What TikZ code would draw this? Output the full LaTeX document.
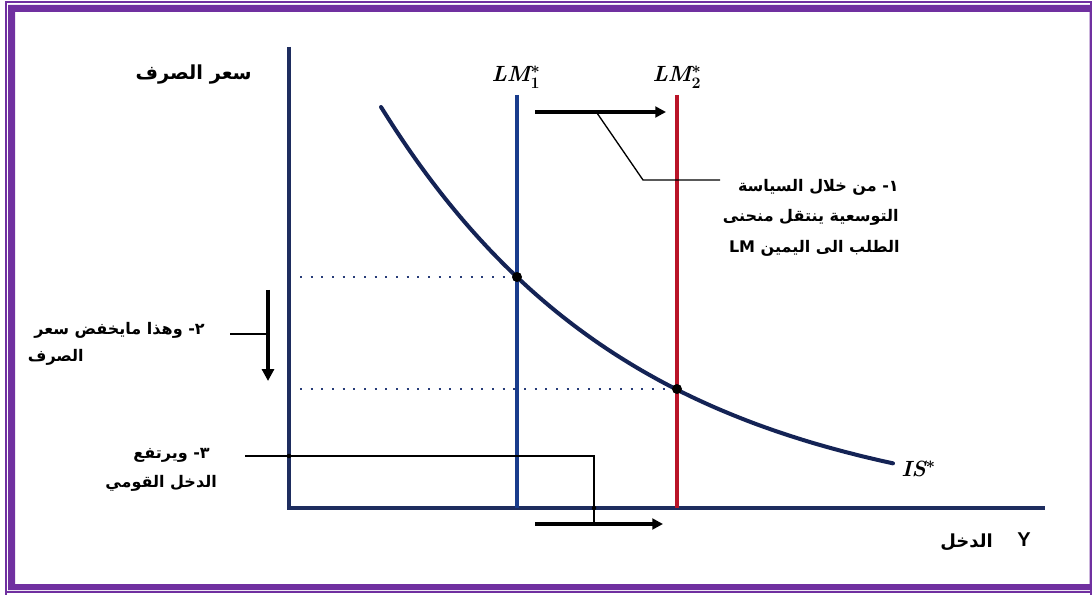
\documentclass[tikz,border=0pt]{standalone}
\usepackage{fontspec}
\usetikzlibrary{arrows.meta}
\TeXXeTstate=1
\newfontfamily\arabicfont[Script=Arabic]{DejaVu Sans}
\newfontfamily\latinsans{Liberation Sans}
\definecolor{framec}{RGB}{112,48,160}
\definecolor{axisc}{RGB}{30,45,95}
\definecolor{lmone}{RGB}{25,60,140}
\definecolor{lmtwo}{RGB}{185,20,40}
\definecolor{curvec}{RGB}{20,35,85}
\definecolor{dotc}{RGB}{40,60,120}
\begin{document}
\begin{tikzpicture}[x=0.75pt,y=-0.75pt,
  artext/.style={font=\arabicfont\bfseries\fontsize{12}{14}\selectfont, inner sep=0pt, anchor=east},
  lmlabel/.style={font=\boldmath\bfseries\itshape\fontsize{16.5}{18}\selectfont, inner sep=0pt},
  axisline/.style={axisc, line width=2.6pt},
  guide/.style={dotc, line width=1.6pt, dash pattern=on 1.6pt off 6.4pt},
  leader/.style={black, line width=1pt},
  bigarrow/.style={black, line width=3.6pt, -{Triangle[length=8pt,width=8pt]}},
  eqdot/.style={black, fill=black},
]
\useasboundingbox (0,0) rectangle (1092,595);
\fill[white] (0,0) rectangle (1092,595);
% frame
\fill[framec, even odd rule] (8,5) rectangle (1091,590) (15,12) rectangle (1089.5,584);
\draw[framec, line width=1.5pt] (6,595) -- (6,2) -- (1091,2) -- (1091,595);
\draw[framec, line width=1.5pt] (6,592) -- (1091,592);

% key points
\coordinate (O) at (289,508);
\coordinate (ytop) at (289,47);
\coordinate (xend) at (1045,508);
\coordinate (lmAtop) at (517,95);
\coordinate (lmAbot) at (517,508);
\coordinate (lmBtop) at (677,95);
\coordinate (lmBbot) at (677,508);
\coordinate (E1) at (517,277);
\coordinate (E2) at (677,389);
\coordinate (g1) at (300,277);
\coordinate (g2) at (300,389);

% guides
\draw[guide] (g1) -- (E1);
\draw[guide] (g2) -- (E2);

% axes
\draw[axisline] (ytop) -- (O) -- (xend);

% LM lines
\draw[lmone, line width=2.4pt] (lmAtop) -- (lmAbot);
\draw[lmtwo, line width=3pt] (lmBtop) -- (lmBbot);

% IS curve
\draw[curvec, line width=3pt, line cap=round] plot[domain=381:893, samples=80, smooth] (\x, {518.6-411.6*exp(-0.00392*(\x-381))});

\fill[eqdot] (E1) circle (5);
\fill[eqdot] (E2) circle (5);

% labels
\node[lmlabel] (lmA) at (516,77) {LM$^{*}_{1}$};
\node[lmlabel] (lmB) at (677,77) {LM$^{*}_{2}$};
\node[lmlabel, anchor=west] (isl) at (901,469) {IS$^{*}$};

% top arrow and leader 1
\coordinate (ta1) at (535,112);
\coordinate (ta2) at (666,112);
\draw[bigarrow] (ta1) -- (ta2);
\node[artext] (t1a) at (899,187) {\beginR ١- من خلال السياسة\endR};
\node[artext] (t1b) at (899,217) {\beginR التوسعية ينتقل منحنى\endR};
\node[artext] (t1c) at (900,248) {\beginR الطلب الى اليمين \beginL LM\endL\endR};
\coordinate (l1s) at (597,113);
\coordinate (l1m) at (643,180);
\coordinate (l1e) at (720,180);
\draw[leader] (l1s) -- (l1m) -- (l1e);

% y-axis label
\node[artext, font=\arabicfont\bfseries\fontsize{14.5}{16}\selectfont] (ylab) at (252,75) {\beginR سعر الصرف\endR};

% text 2 and down arrow
\node[artext] (t2a) at (205,330) {\beginR ٢- وهذا مايخفض سعر\endR};
\node[artext] (t2b) at (84,357) {\beginR الصرف\endR};
\coordinate (da1) at (268,290);
\coordinate (da2) at (268,381);
\draw[black, line width=3pt, -{Triangle[length=9pt,width=9pt]}] (da1) -- (da2);
\coordinate (l2s) at (230,334);
\coordinate (l2e) at (268,334);
\draw[leader] (l2s) -- (l2e);

% text 3 and bottom arrow
\node[artext] (t3a) at (210,455) {\beginR ٣- ويرتفع\endR};
\node[artext] (t3b) at (217,483) {\beginR الدخل القومي\endR};
\coordinate (l3s) at (245,456);
\coordinate (l3c) at (594,456);
\coordinate (l3e) at (594,524);
\draw[leader] (l3s) -- (l3c) -- (l3e);
\fill[black] (289,456) circle (2.3);
\fill[black] (594,508) circle (2.3);
\coordinate (ba1) at (535,524);
\coordinate (ba2) at (663,524);
\draw[bigarrow] (ba1) -- (ba2);

% x-axis label
\node[artext, font=\arabicfont\bfseries\fontsize{13.5}{15}\selectfont] (xlab) at (993,542) {\beginR الدخل\endR};
\node[font=\latinsans\bfseries\fontsize{15}{16}\selectfont, inner sep=0pt] (ylet) at (1024,540) {Y};
\end{tikzpicture}
\end{document}
